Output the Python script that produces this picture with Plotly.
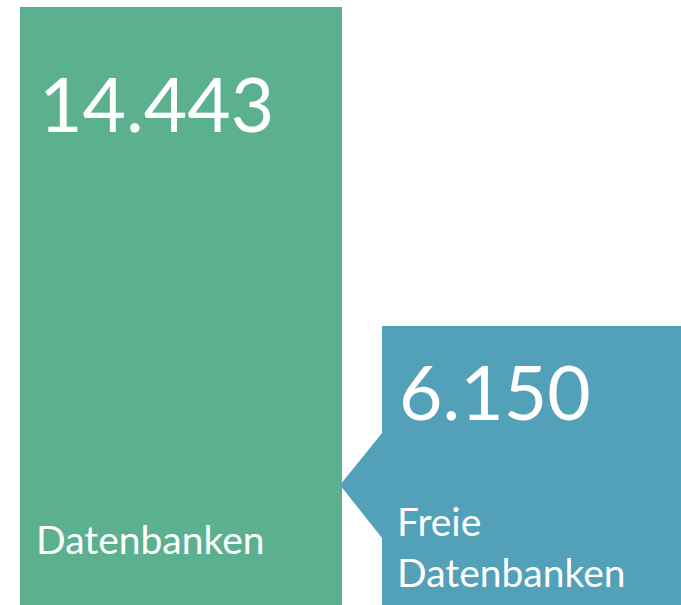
import plotly.graph_objects as go

# Data
categories = ["Datenbanken", "Freie Datenbanken"]
values = [14443, 6150]
label_texts = ["Datenbanken", "Freie<br>Datenbanken"]

# Styles
colors = ["#5BB18F", "#53A0B9"]
widths = [0.919, 0.853]

def de(v):
    return f"{v:,}".replace(",", ".")

xpos = [0, 1]

fig = go.Figure()
fig.add_trace(go.Bar(
    x=xpos, y=values, width=widths,
    marker=dict(color=colors, line=dict(width=0)),
    hoverinfo="skip", showlegend=False,
))

# pointer triangle of the callout
fig.add_shape(
    type="path",
    path="M 0.5735,0.2843 L 0.4536,0.1983 L 0.5735,0.1107 Z",
    xref="x", yref="paper",
    fillcolor=colors[1], line=dict(width=0), layer="above",
)

font = "Lato, 'Noto Sans', sans-serif"
ann = []
# big numbers
ann.append(dict(x=37/681, y=1-103/605, text=de(values[0]), xref="paper", yref="paper",
                xanchor="left", yanchor="middle", showarrow=False,
                font=dict(family=font, size=75, color="white")))
ann.append(dict(x=397/681, y=1-391/605, text=de(values[1]), xref="paper", yref="paper",
                xanchor="left", yanchor="middle", showarrow=False,
                font=dict(family=font, size=75, color="white")))
# labels
ann.append(dict(x=34/681, y=1-539/605, text=label_texts[0], xref="paper", yref="paper",
                xanchor="left", yanchor="middle", showarrow=False, align="left",
                font=dict(family=font, size=39, color="white")))
ann.append(dict(x=395/681, y=1-546/605, text=label_texts[1], xref="paper", yref="paper",
                xanchor="left", yanchor="middle", showarrow=False, align="left",
                font=dict(family=font, size=39, color="white")))

fig.update_layout(
    width=681, height=605,
    margin=dict(l=0, r=0, t=0, b=0),
    paper_bgcolor="white", plot_bgcolor="white",
    annotations=ann,
    separators=",.",
    xaxis=dict(range=[-0.5164, 1.4265], visible=False, fixedrange=True),
    yaxis=dict(type="log", range=[3.4643, 4.1597 + 7/860], visible=False, fixedrange=True),
    bargap=0,
)

fig.write_html("out.html", config={"displayModeBar": False},
               post_script="document.body.style.margin='0';document.body.style.overflow='hidden';")
